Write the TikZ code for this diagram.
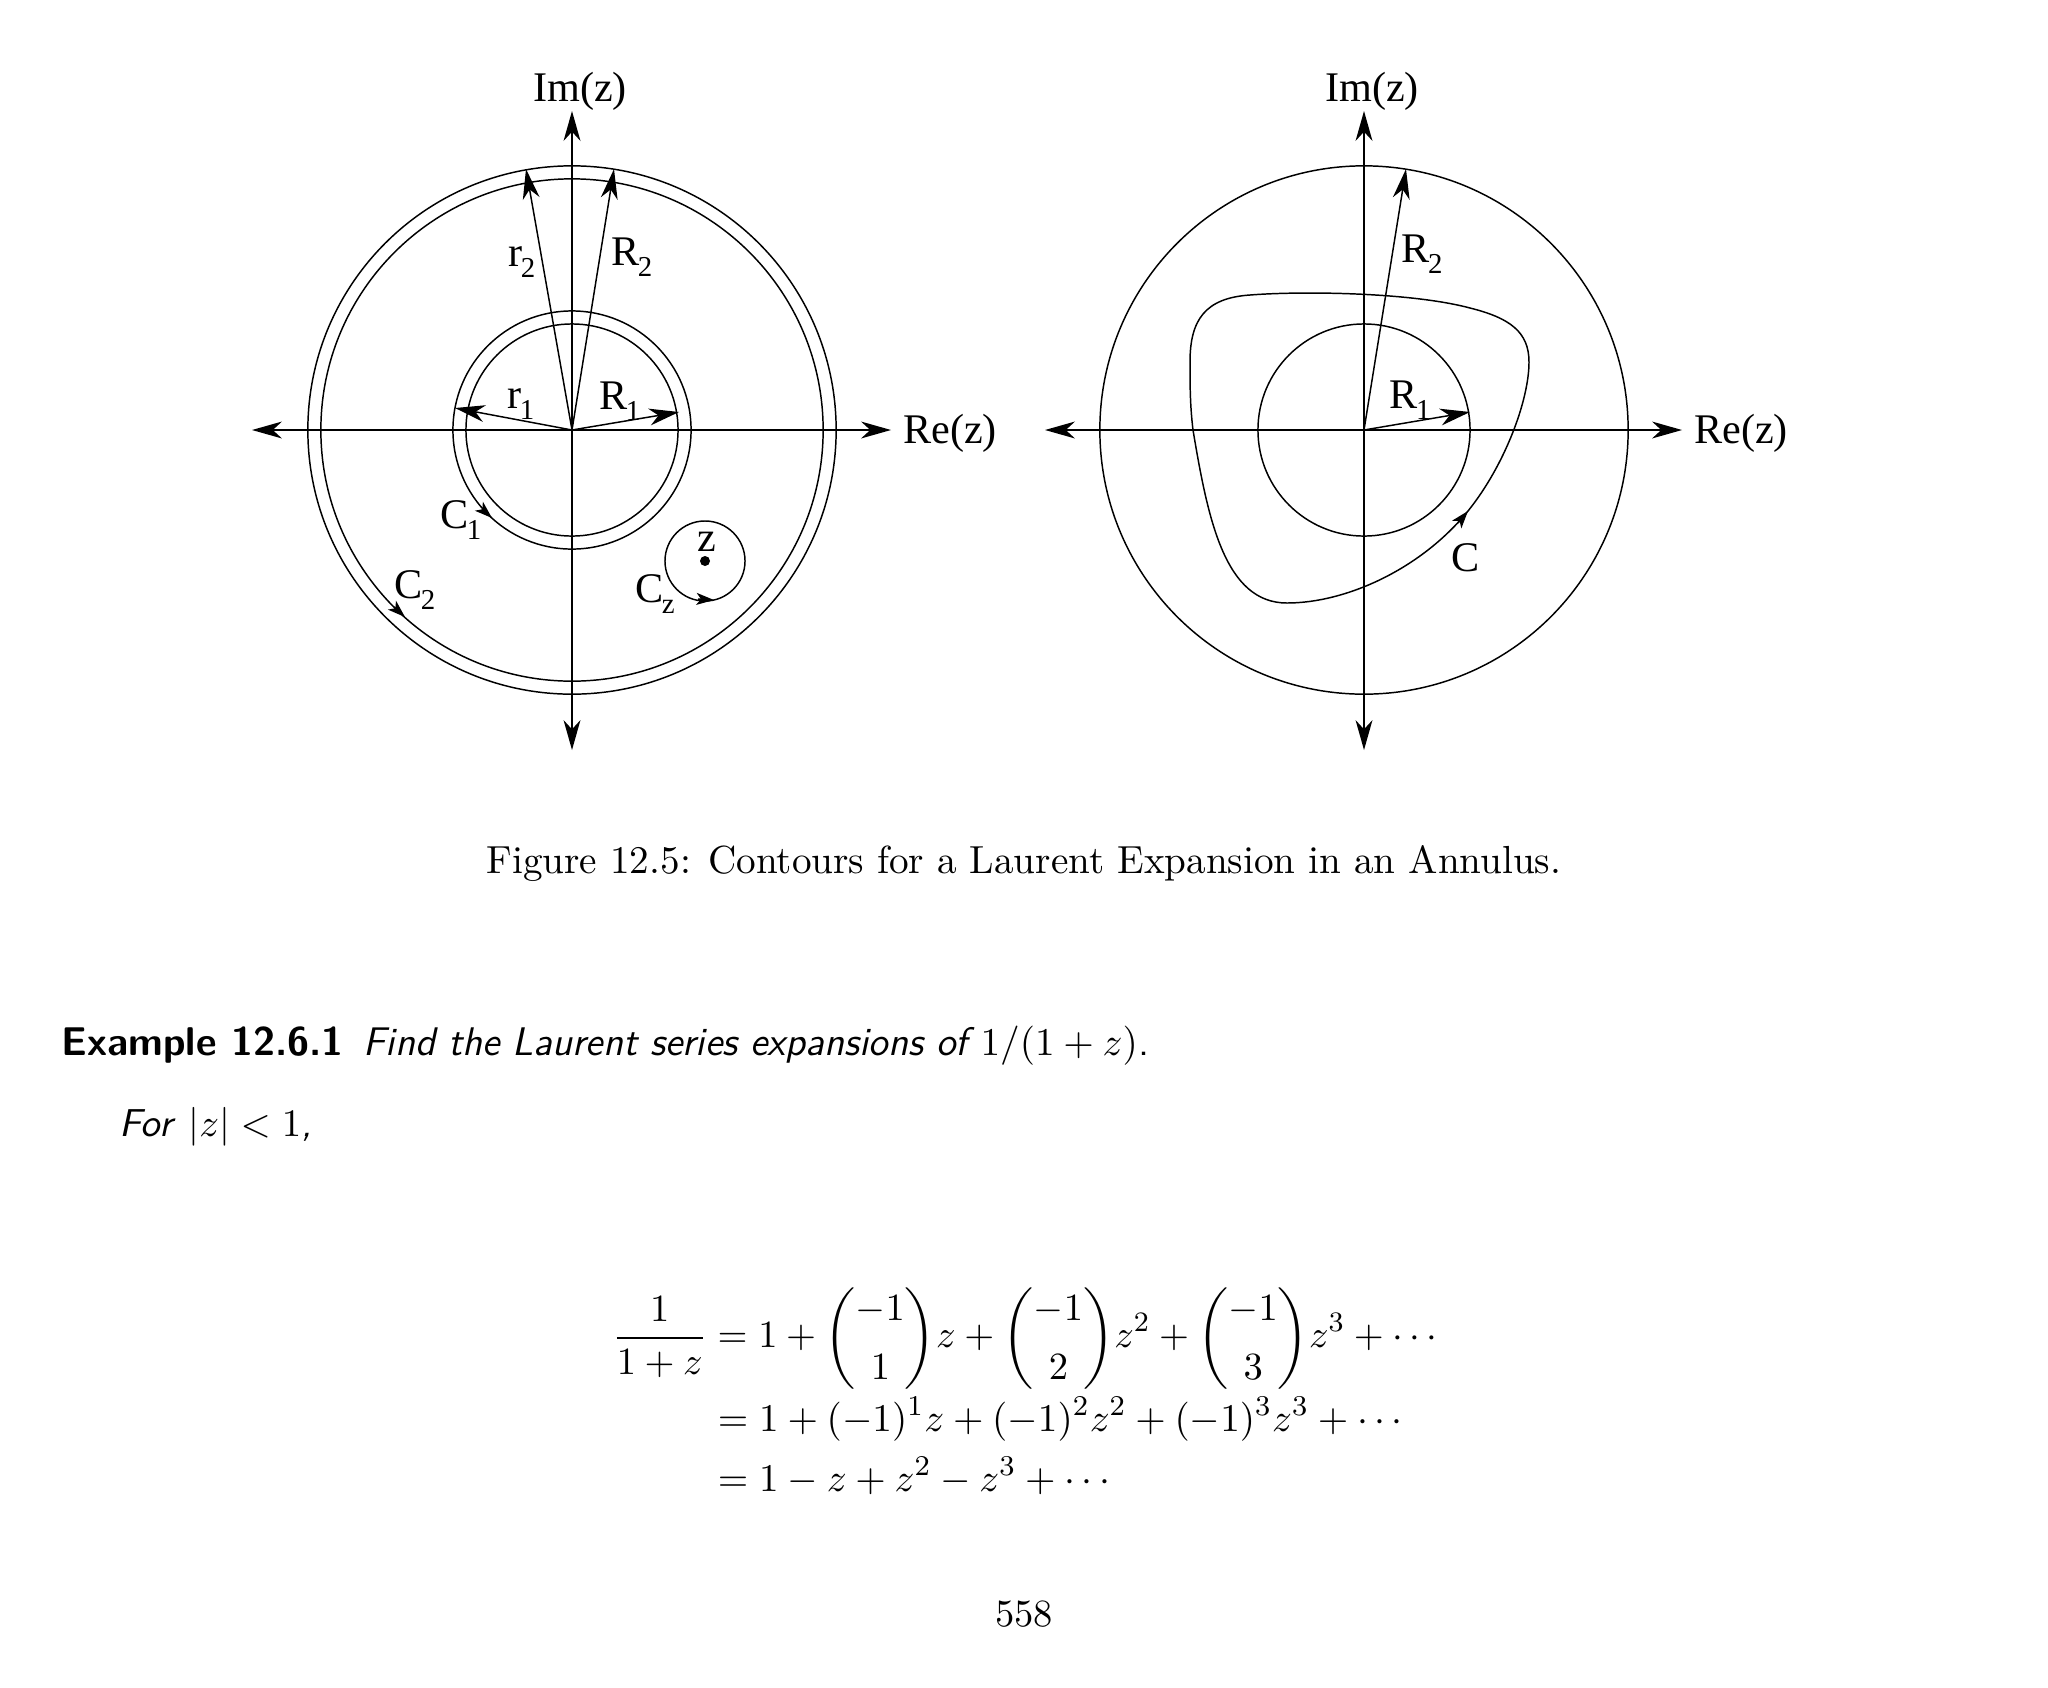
\documentclass[tikz,border=0pt]{standalone}
\usepackage{amsmath}
\usepackage{fontspec}
\usetikzlibrary{arrows.meta}
\newfontfamily\figfont{Liberation Serif}
\newcommand{\labsub}[1]{\kern-0.5pt\raisebox{-3pt}{\fontsize{8.2}{9}\selectfont #1}}
\newcommand{\tallparen}[1]{\vcenter{\hbox{\nulldelimiterspace=0pt\resizebox*{!}{29pt}{$\left#1\rule{0pt}{16pt}\right.$}}}}
\newcommand{\colbinom}[2]{\mathopen{\tallparen{(}}\renewcommand{\arraystretch}{1.22}\begin{array}{@{}c@{}}#1\\#2\end{array}\mathclose{\tallparen{)}}}
\newcommand{\serrow}[1]{\scalebox{1.018}{$\displaystyle #1$}}
\tikzset{
  axis/.style={line width=0.45pt,{Stealth[length=8.5pt,width=4.8pt,inset=2.6pt]}-{Stealth[length=8.5pt,width=4.8pt,inset=2.6pt]}},
  radius line/.style={line width=0.42pt,-{Stealth[length=8.5pt,width=4.8pt,inset=2.6pt]}},
  contour tip/.style={line width=0.42pt,-{Stealth[length=5pt,width=3.4pt,inset=1.3pt]}},
  contour/.style={line width=0.42pt},
  lab/.style={inner sep=0pt,font=\figfont\fontsize{12}{14}\selectfont},
  page/.style={inner sep=0pt,font=\fontsize{10.95}{13.6}\selectfont},
  display/.style={inner sep=0pt,font=\fontsize{11.35}{13.6}\selectfont}
}
\begin{document}
\begin{tikzpicture}[x=0.01cm,y=-0.01cm]
      \useasboundingbox (0,0) rectangle (2048,1687);
      \draw
        (572,430) coordinate (leftO)
        (252,430) coordinate (leftW)
        (891,430) coordinate (leftE)
        (572,111) coordinate (leftN)
        (572,750) coordinate (leftS)
        (526,169) coordinate (r2tip)
        (614,169) coordinate (R2tip)
        (455,408) coordinate (r1tip)
        (679,412) coordinate (R1tip)
        (482,509) coordinate (C1tail)
        (492,518) coordinate (C1tip)
        (394,607) coordinate (C2tail)
        (405,617) coordinate (C2tip)
        (698,599) coordinate (Cztail)
        (714,600) coordinate (Cztip)
        (705,561) coordinate (zdot)
        (1364,430) coordinate (rightO)
        (1045,430) coordinate (rightW)
        (1682,430) coordinate (rightE)
        (1364,111) coordinate (rightN)
        (1364,750) coordinate (rightS)
        (1406,169) coordinate (R2btip)
        (1470,412) coordinate (R1btip)
        (1458,523) coordinate (Ctail)
        (1468,511) coordinate (Ctip);
      \draw
        (580,91) node[lab] (imL){Im(z)}
        (950,433) node[lab] (reL){Re(z)}
        (1372,91) node[lab] (imR){Im(z)}
        (1741,433) node[lab] (reR){Re(z)}
        (522,262) node[lab] (r2L){r\labsub{2}}
        (632,257) node[lab] (R2L){R\labsub{2}}
        (521,404) node[lab] (r1L){r\labsub{1}}
        (620,401) node[lab] (R1L){R\labsub{1}}
        (461,520) node[lab] (C1L){C\labsub{1}}
        (415,590) node[lab] (C2L){C\labsub{2}}
        (707,542) node[lab] (zL){z}
        (655,594) node[lab] (CzL){C\labsub{z}}
        (1422,254) node[lab] (R2R){R\labsub{2}}
        (1410,400) node[lab] (R1R){R\labsub{1}}
        (1466,558) node[lab] (CR){C};
      \begin{scope}[contour]
        \draw (leftO) circle (2.64cm);
        \draw (leftO) circle (2.51cm);
        \draw (leftO) circle (1.19cm);
        \draw (leftO) circle (1.06cm);
        \draw (zdot) circle (0.40cm);
        \draw (rightO) circle (2.64cm);
        \draw (rightO) circle (1.06cm);
        \draw (1529,362) .. controls (1529,400) and (1505,465) .. (Ctip)
          .. controls (1420,570) and (1345,603) .. (1287,603)
          .. controls (1225,603) and (1208,520) .. (1193,430)
          .. controls (1190,405) and (1190,385) .. (1190,362)
          .. controls (1190,320) and (1205,298) .. (1250,295)
          .. controls (1300,291) and (1410,292) .. (1470,308)
          .. controls (1510,318) and (1529,332) .. (1529,362) -- cycle;
      \end{scope}
      \fill (zdot) circle (0.05cm);
      \begin{scope}[axis]
        \draw (leftW) to (leftE);
        \draw (leftS) to (leftN);
        \draw (rightW) to (rightE);
        \draw (rightS) to (rightN);
      \end{scope}
      \begin{scope}[radius line]
        \draw (leftO) to (r2tip);
        \draw (leftO) to (R2tip);
        \draw (leftO) to (r1tip);
        \draw (leftO) to (R1tip);
        \draw (rightO) to (R2btip);
        \draw (rightO) to (R1btip);
      \end{scope}
      \begin{scope}[contour tip]
        \draw (C1tail) to (C1tip);
        \draw (C2tail) to (C2tip);
        \draw (Cztail) to (Cztip);
        \draw (Ctail) to (Ctip);
      \end{scope}
      \node[page,anchor=base] (figcap) at (1024,873) {\scalebox{1.017}{Figure 12.5: Contours for a Laurent Expansion in an Annulus.}};
      \node[page,anchor=base west] (example) at (61,1055) {\textsf{\fontsize{11.4}{13.6}\selectfont\textbf{Example 12.6.1}\hspace{5.6pt}\fontsize{11.35}{13.6}\selectfont\textsl{Find the Laurent series expansions of}\hspace{1.5pt}\scalebox{1.02}{$1/(1+z)$.}}};
      \node[page,anchor=base west] (forline) at (119,1136) {\scalebox{1.01}{\textsf{\textsl{For} $|z|<1$\textsl{,}}}};
      \node[display,anchor=center] (series) at (1025,1393) {$\begin{aligned}
        \frac{1}{1+z} &= 1+\colbinom{-1}{1}z+\colbinom{-1}{2}z^2+\colbinom{-1}{3}z^3+\cdots\\[-3.8pt]
        &\serrow{{}= 1+(-1)^1z+(-1)^2z^2+(-1)^3z^3+\cdots}\\[-0.9pt]
        &\serrow{{}= 1-z+z^2-z^3+\cdots}
      \end{aligned}$};
      \node[page,anchor=base] (pageno) at (1024,1626) {558};
    \end{tikzpicture}
\end{document}
